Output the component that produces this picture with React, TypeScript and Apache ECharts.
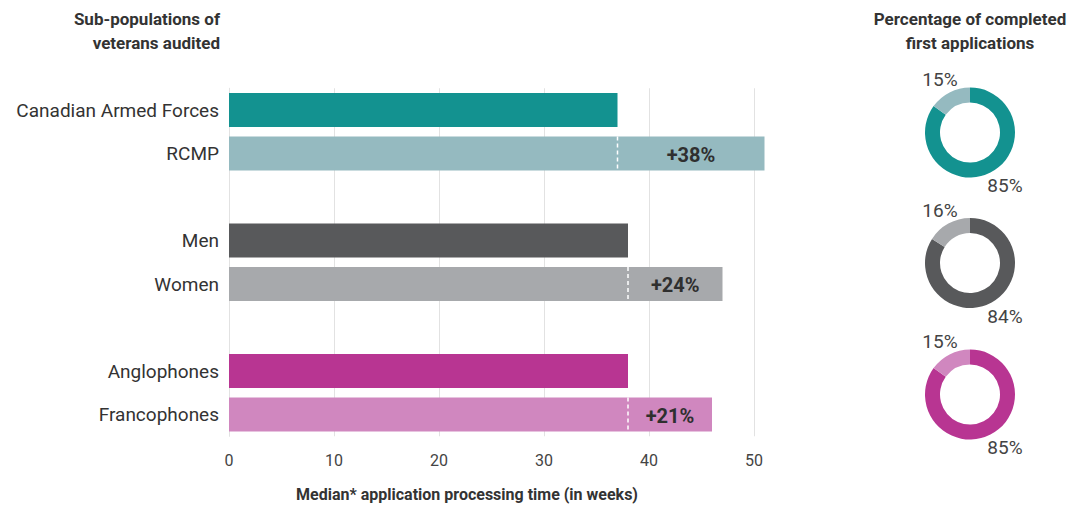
import React, { useEffect, useRef } from "react";
import * as echarts from "echarts";

// ---- data ----
const categories = ["Canadian Armed Forces", "RCMP", "Men", "Women", "Anglophones", "Francophones"];
const medianWeeks = [37, 51, 38, 47, 38, 46];
const increaseLabels = ["+38%", "+24%", "+21%"];
const completedPct = [85, 84, 85];
const notCompletedPct = [15, 16, 15];
const xTicks = [0, 10, 20, 30, 40, 50];

const mainColors = ["#139290", "#58595b", "#b83592"];
const lightColors = ["#95bac0", "#a7a9ac", "#d087bf"];

const FONT = "Roboto, 'Noto Sans', sans-serif";

export default function App() {
  const ref = useRef<HTMLDivElement>(null);

  useEffect(() => {
    if (!ref.current) return;
    const chart = echarts.init(ref.current, undefined, { renderer: "svg" });

    // rows with spacers between groups
    const rowNames: string[] = [];
    const barData: any[] = [];
    const rowIndexOf: number[] = [];
    categories.forEach((c, i) => {
      const g = Math.floor(i / 2);
      if (i > 0 && i % 2 === 0) {
        rowNames.push(" ".repeat(g));
        barData.push("-");
      }
      rowIndexOf.push(rowNames.length);
      rowNames.push(c);
      barData.push({
        value: medianWeeks[i],
        itemStyle: { color: i % 2 === 0 ? mainColors[g] : lightColors[g] },
      });
    });

    const gapData = [0, 1, 2].map((g) => [
      medianWeeks[g * 2],
      rowIndexOf[g * 2 + 1],
      medianWeeks[g * 2 + 1],
    ]);

    const BAR_W = 34;
    const pieCentersY = [132.5, 263, 394.5];
    const pieCx = 970;

    const pies = [0, 1, 2].map((g) => ({
      type: "pie",
      center: [pieCx, pieCentersY[g]],
      radius: [30, 45],
      startAngle: 90,
      clockwise: true,
      silent: true,
      label: { show: false },
      labelLine: { show: false },
      data: [
        { value: completedPct[g], itemStyle: { color: mainColors[g] } },
        { value: notCompletedPct[g], itemStyle: { color: lightColors[g] } },
      ],
    }));

    const pieTexts: any[] = [];
    [0, 1, 2].forEach((g) => {
      pieTexts.push({
        type: "text",
        x: pieCx - 30,
        y: pieCentersY[g] - 53,
        style: {
          text: `${notCompletedPct[g]}%`,
          fontFamily: FONT,
          fontSize: 19,
          fill: "#444",
          textAlign: "center",
          textVerticalAlign: "middle",
        },
      });
      pieTexts.push({
        type: "text",
        x: pieCx + 35,
        y: pieCentersY[g] + 53,
        style: {
          text: `${completedPct[g]}%`,
          fontFamily: FONT,
          fontSize: 19,
          fill: "#444",
          textAlign: "center",
          textVerticalAlign: "middle",
        },
      });
    });

    chart.setOption({
      animation: false,
      backgroundColor: "#ffffff",
      grid: { left: 229, right: 317, top: 88.25, height: 348 },
      xAxis: {
        type: "value",
        min: 0,
        max: 50,
        interval: 10,
        axisLine: { show: false },
        axisTick: { show: false },
        splitLine: { show: true, lineStyle: { color: "#e2e2e2", width: 1 } },
        axisLabel: {
          margin: 16,
          fontFamily: FONT,
          fontSize: 16,
          color: "#444",
          formatter: (v: number) => (xTicks.includes(v) ? String(v) : ""),
        },
      },
      yAxis: {
        type: "category",
        inverse: true,
        data: rowNames,
        axisLine: { show: true, lineStyle: { color: "#e2e2e2", width: 1 } },
        axisTick: { show: false },
        axisLabel: {
          margin: 10,
          fontFamily: FONT,
          fontSize: 19,
          color: "#333",
        },
      },
      series: [
        {
          type: "bar",
          data: barData,
          barWidth: BAR_W,
          clip: false,
          silent: true,
        },
        {
          type: "custom",
          data: gapData,
          clip: false,
          silent: true,
          z: 5,
          renderItem: (params: any, api: any) => {
            const base = api.value(0);
            const row = api.value(1);
            const end = api.value(2);
            const p0 = api.coord([base, row]);
            const p1 = api.coord([end, row]);
            return {
              type: "group",
              children: [
                {
                  type: "line",
                  shape: { x1: p0[0], y1: p0[1] - BAR_W / 2, x2: p0[0], y2: p0[1] + BAR_W / 2 },
                  style: { stroke: "#ffffff", lineWidth: 1.5, lineDash: [4, 3] },
                },
                {
                  type: "text",
                  x: (p0[0] + p1[0]) / 2,
                  y: p0[1] + 1,
                  style: {
                    text: increaseLabels[params.dataIndex],
                    fontFamily: FONT,
                    fontSize: 20,
                    fontWeight: "bold",
                    fill: "#2f2f2f",
                    textAlign: "center",
                    textVerticalAlign: "middle",
                  },
                },
              ],
            };
          },
        },
        ...pies,
      ],
      graphic: [
        {
          type: "text",
          x: 220,
          y: 7,
          style: {
            text: "Sub-populations of\nveterans audited",
            fontFamily: FONT,
            fontSize: 17,
            fontWeight: "bold",
            fill: "#333",
            textAlign: "right",
            textVerticalAlign: "top",
            lineHeight: 24,
          },
        },
        {
          type: "text",
          x: 970,
          y: 7,
          style: {
            text: "Percentage of completed\nfirst applications",
            fontFamily: FONT,
            fontSize: 17,
            fontWeight: "bold",
            fill: "#333",
            textAlign: "center",
            textVerticalAlign: "top",
            lineHeight: 24,
          },
        },
        {
          type: "text",
          x: 467,
          y: 494,
          style: {
            text: "Median* application processing time (in weeks)",
            fontFamily: FONT,
            fontSize: 16,
            fontWeight: "bold",
            fill: "#333",
            textAlign: "center",
            textVerticalAlign: "middle",
          },
        },
        ...pieTexts,
      ],
    });

    return () => chart.dispose();
  }, []);

  return (
    <div
      ref={ref}
      style={{ position: "fixed", left: 0, top: 0, width: 1071, height: 508, background: "#fff" }}
    />
  );
}
